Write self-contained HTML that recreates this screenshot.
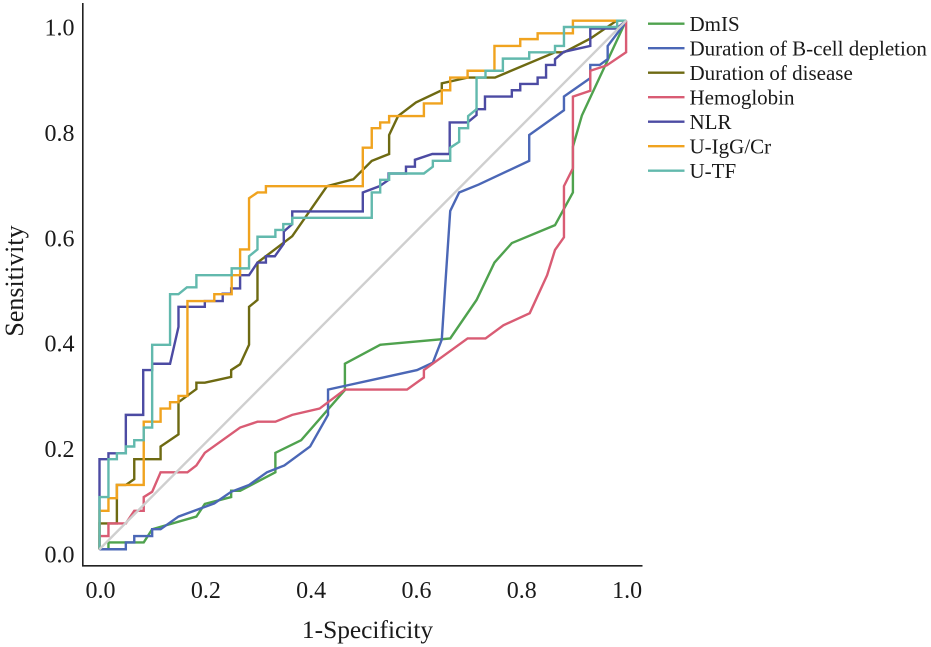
<!DOCTYPE html>
<html lang="en">
<head>
<meta charset="utf-8">
<title>ROC curves</title>
<style>
html,body{margin:0;padding:0;background:#fff;width:931px;height:647px;overflow:hidden}
svg{display:block}
text{font-family:"Liberation Serif",serif;fill:#1a1a1a}
</style>
</head>
<body>
<svg id="chart" xmlns="http://www.w3.org/2000/svg" width="931" height="647" viewBox="0 0 931 647">
  <rect x="0" y="0" width="931" height="647" fill="#ffffff"/>
  <line x1="82.8" y1="3" x2="82.8" y2="566.5" stroke="#222" stroke-width="1.6"/>
  <line x1="82" y1="565.8" x2="642.5" y2="565.8" stroke="#222" stroke-width="1.6"/>
  <text x="367.5" y="638" font-size="25.4" text-anchor="middle">1-Specificity</text>
  <text transform="translate(23 281) rotate(-90)" font-size="26" text-anchor="middle">Sensitivity</text>
  <g id="x-ticks"></g>
  <g id="y-ticks"></g>
  <g id="series"></g>
  <g id="legend"></g>
</svg>
<script>
const xTicks = [0.0, 0.2, 0.4, 0.6, 0.8, 1.0];
const yTicks = [0.0, 0.2, 0.4, 0.6, 0.8, 1.0];
const seriesNames = ['DmIS', 'Duration of B-cell depletion', 'Duration of disease', 'Hemoglobin', 'NLR', 'U-IgG/Cr', 'U-TF'];
const seriesColors = ['#4fa24e', '#4b67b6', '#6e6a12', '#d95c74', '#4c4ba3', '#f0a31f', '#62b9ad'];

const dmis = [[0,.009],[.017,.009],[.017,.022],[.084,.022],[.1,.047],[.184,.071],[.2,.095],[.25,.108],[.25,.12],[.267,.12],[.334,.155],[.334,.192],[.383,.216],[.466,.311],[.466,.361],[.533,.397],[.666,.409],[.716,.482],[.75,.553],[.783,.59],[.865,.624],[.899,.686],[.899,.773],[.916,.832],[1,1.012]];
const bcell = [[0,.009],[.05,.009],[.05,.022],[.066,.022],[.066,.034],[.1,.034],[.1,.047],[.116,.047],[.15,.071],[.218,.096],[.25,.118],[.284,.131],[.318,.155],[.351,.168],[.4,.204],[.434,.264],[.434,.312],[.466,.319],[.603,.349],[.633,.363],[.65,.407],[.656,.501],[.666,.651],[.683,.686],[.72,.701],[.816,.746],[.816,.795],[.882,.842],[.882,.868],[.932,.903],[.932,.928],[.95,.928],[.965,.939],[.965,.964],[1,1.01]];
const disease = [[0,.009],[0,.058],[.033,.058],[.033,.131],[.05,.131],[.066,.142],[.066,.18],[.116,.18],[.116,.204],[.15,.227],[.15,.288],[.184,.313],[.184,.325],[.2,.325],[.25,.336],[.25,.349],[.267,.36],[.284,.397],[.284,.469],[.3,.482],[.3,.553],[.366,.603],[.432,.698],[.482,.711],[.517,.746],[.55,.759],[.55,.795],[.567,.831],[.601,.857],[.65,.88],[.65,.893],[.699,.904],[.751,.904],[.865,.952],[.882,.952],[.932,.978],[.982,1.012],[1,1.012]];
const hemoglobin = [[0,.009],[0,.034],[.017,.034],[.017,.058],[.05,.058],[.066,.082],[.084,.082],[.084,.108],[.1,.118],[.116,.155],[.167,.155],[.184,.168],[.2,.192],[.267,.24],[.3,.251],[.334,.251],[.366,.264],[.418,.276],[.466,.312],[.584,.312],[.616,.335],[.616,.349],[.699,.409],[.733,.409],[.767,.434],[.817,.457],[.85,.529],[.865,.577],[.882,.601],[.882,.698],[.899,.732],[.899,.868],[.932,.879],[.932,.917],[.963,.927],[1,.952],[1,1.012]];
const nlr = [[0,.009],[0,.18],[.017,.18],[.017,.191],[.05,.191],[.05,.264],[.083,.264],[.083,.349],[.1,.349],[.1,.361],[.134,.361],[.15,.431],[.15,.469],[.2,.469],[.2,.48],[.234,.48],[.234,.494],[.25,.494],[.25,.504],[.267,.504],[.267,.529],[.284,.529],[.3,.553],[.316,.553],[.316,.565],[.333,.565],[.35,.589],[.35,.612],[.366,.626],[.366,.65],[.5,.65],[.5,.686],[.532,.698],[.549,.71],[.549,.722],[.582,.722],[.582,.735],[.599,.735],[.599,.748],[.632,.759],[.665,.759],[.665,.819],[.699,.819],[.716,.833],[.716,.844],[.732,.844],[.732,.868],[.783,.868],[.783,.88],[.799,.88],[.799,.892],[.832,.892],[.832,.904],[.848,.904],[.848,.928],[.865,.928],[.865,.939],[.882,.953],[.932,.964],[.932,.997],[.982,.997],[1,1.012]];
const uigg = [[0,.009],[0,.082],[.017,.082],[.017,.106],[.033,.106],[.033,.131],[.084,.131],[.084,.251],[.116,.251],[.116,.276],[.134,.276],[.134,.288],[.15,.288],[.15,.3],[.167,.3],[.167,.48],[.218,.48],[.218,.493],[.251,.493],[.251,.529],[.267,.529],[.267,.578],[.284,.578],[.284,.675],[.3,.686],[.316,.686],[.316,.698],[.5,.698],[.5,.771],[.517,.771],[.517,.808],[.533,.808],[.533,.819],[.55,.819],[.55,.831],[.616,.831],[.616,.855],[.65,.855],[.65,.88],[.666,.88],[.666,.904],[.699,.904],[.699,.917],[.75,.917],[.75,.964],[.799,.964],[.799,.977],[.832,.977],[.832,.988],[.899,.988],[.899,1.012],[1,1.012]];
const utf = [[0,.009],[0,.108],[.017,.108],[.017,.18],[.033,.18],[.033,.191],[.05,.191],[.05,.204],[.066,.204],[.066,.216],[.084,.216],[.084,.24],[.1,.24],[.1,.397],[.134,.397],[.134,.493],[.15,.493],[.166,.506],[.184,.506],[.184,.529],[.251,.529],[.251,.542],[.284,.542],[.284,.565],[.3,.578],[.3,.602],[.334,.602],[.334,.615],[.349,.615],[.349,.626],[.366,.626],[.366,.638],[.517,.638],[.517,.686],[.533,.686],[.533,.71],[.55,.71],[.55,.722],[.616,.722],[.633,.735],[.633,.746],[.666,.746],[.666,.771],[.683,.782],[.683,.808],[.7,.808],[.7,.831],[.716,.844],[.716,.904],[.733,.904],[.733,.917],[.766,.917],[.766,.94],[.816,.94],[.816,.952],[.865,.952],[.865,.964],[.882,.964],[.882,1.0],[.983,1.0],[.983,1.012],[1,1.012]];
const reference = [[0,.009],[1,1.012]];

const seriesData = [dmis, bcell, disease, hemoglobin, nlr, uigg, utf];
const SVG_NS = 'http://www.w3.org/2000/svg';

function xScale(v) { return 99.5 + 526.6 * v; }
function yScale(v) { return 554 - 527 * v; }
function slug(s) { return s.toLowerCase().replace(/[^a-z0-9]+/g, '-').replace(/^-|-$/g, ''); }
function toPoints(d) { return d.map(function (p) { return xScale(p[0]).toFixed(2) + ',' + yScale(p[1]).toFixed(2); }).join(' '); }

const xGroup = document.getElementById('x-ticks');
xTicks.forEach(function (t) {
  const el = document.createElementNS(SVG_NS, 'text');
  
  
  el.setAttribute('x', xScale(t) + 1);
  el.setAttribute('y', 598);
  el.setAttribute('font-size', 24);
  el.setAttribute('text-anchor', 'middle');
  el.textContent = t.toFixed(1);
  xGroup.appendChild(el);
});

const yGroup = document.getElementById('y-ticks');
yTicks.forEach(function (t) {
  const el = document.createElementNS(SVG_NS, 'text');
  
  
  el.setAttribute('x', 74.5);
  el.setAttribute('y', yScale(t) + 8.5);
  el.setAttribute('font-size', 24);
  el.setAttribute('text-anchor', 'end');
  el.textContent = t.toFixed(1);
  yGroup.appendChild(el);
});

const seriesGroup = document.getElementById('series');
seriesData.forEach(function (d, i) {
  const el = document.createElementNS(SVG_NS, 'polyline');
  
  
  el.setAttribute('points', toPoints(d));
  el.setAttribute('fill', 'none');
  el.setAttribute('stroke', seriesColors[i]);
  el.setAttribute('stroke-width', 2.4);
  el.setAttribute('stroke-linejoin', 'miter');
  seriesGroup.appendChild(el);
});
const diagonal = document.createElementNS(SVG_NS, 'polyline');


diagonal.setAttribute('points', toPoints(reference));
diagonal.setAttribute('fill', 'none');
diagonal.setAttribute('stroke', '#cfcfcf');
diagonal.setAttribute('stroke-width', 2.4);
seriesGroup.appendChild(diagonal);

const legendGroup = document.getElementById('legend');
seriesNames.forEach(function (name, i) {
  const rowY = 23.7 + 24.5 * i;
  const key = document.createElementNS(SVG_NS, 'line');
  
  
  key.setAttribute('x1', 648);
  key.setAttribute('x2', 684.5);
  key.setAttribute('y1', rowY);
  key.setAttribute('y2', rowY);
  key.setAttribute('stroke', seriesColors[i]);
  key.setAttribute('stroke-width', 2.4);
  legendGroup.appendChild(key);
  const label = document.createElementNS(SVG_NS, 'text');
  
  
  label.setAttribute('x', 689.5);
  label.setAttribute('y', rowY + 7.2);
  label.setAttribute('font-size', 21);
  label.textContent = name;
  legendGroup.appendChild(label);
});
</script>
</body>
</html>
